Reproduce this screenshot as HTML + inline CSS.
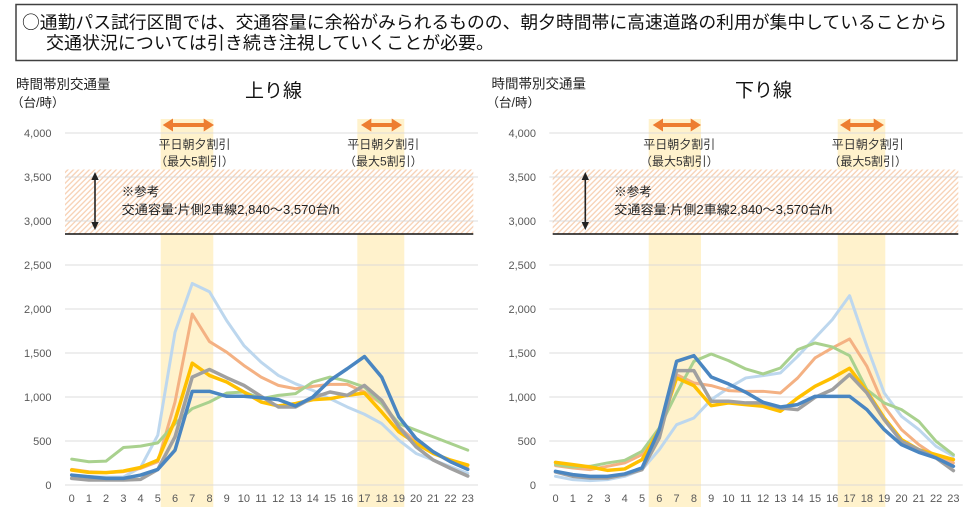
<!DOCTYPE html>
<html>
<head>
<meta charset="utf-8">
<style>
html,body{margin:0;padding:0;background:#fff;}
svg{display:block;}
text{font-family:"Liberation Sans","Noto Sans CJK JP",sans-serif;}
text.cjk{font-family:"Noto Sans CJK JP","Liberation Sans",sans-serif;}
</style>
</head>
<body>
<svg width="972" height="507" viewBox="0 0 972 507" xmlns="http://www.w3.org/2000/svg">
<defs>
<pattern id="hatch" patternUnits="userSpaceOnUse" width="3.8" height="3.8" patternTransform="rotate(45)">
<rect width="3.8" height="3.8" fill="#fff"/>
<line x1="0.8" y1="0" x2="0.8" y2="3.8" stroke="#f7d0b3" stroke-width="1.3"/>
</pattern>
</defs>

<!-- header box -->
<rect x="16" y="4.5" width="941" height="56" fill="#fff" stroke="#404040" stroke-width="1.5"/>
<text class="cjk" x="22" y="28.5" font-size="17.8" fill="#111" textLength="925" lengthAdjust="spacingAndGlyphs">○通勤パス試行区間では、交通容量に余裕がみられるものの、朝夕時間帯に高速道路の利用が集中していることから</text>
<text class="cjk" x="46" y="49" font-size="17.8" fill="#111" textLength="448" lengthAdjust="spacingAndGlyphs">交通状況については引き続き注視していくことが必要。</text>

<!-- ============ LEFT CHART ============ -->
<text x="16" y="89" font-size="13.5" fill="#222">時間帯別交通量</text>
<text x="11" y="107" font-size="12.5" fill="#222">（台/時）</text>
<text x="245" y="97" font-size="19" fill="#111">上り線</text>

<rect x="160.7" y="119" width="52.6" height="388" fill="#fff2cc"/>
<rect x="357.3" y="119" width="47" height="388" fill="#fff2cc"/>

<rect x="65" y="169.5" width="408.3" height="64.5" fill="url(#hatch)"/>

<g stroke="#d9d9d9" stroke-width="1" opacity="0.9">
<line x1="65" y1="133" x2="478" y2="133"/>
<line x1="65" y1="177" x2="478" y2="177"/>
<line x1="65" y1="221" x2="478" y2="221"/>
<line x1="65" y1="265" x2="478" y2="265"/>
<line x1="65" y1="309" x2="478" y2="309"/>
<line x1="65" y1="353" x2="478" y2="353"/>
<line x1="65" y1="397" x2="478" y2="397"/>
<line x1="65" y1="441" x2="478" y2="441"/>
<line x1="65" y1="485" x2="478" y2="485"/>
</g>
<line x1="65" y1="234" x2="473.3" y2="234" stroke="#111" stroke-width="1.5"/>

<g font-size="11" fill="#595959" text-anchor="end">
<text x="51.5" y="137">4,000</text>
<text x="51.5" y="181">3,500</text>
<text x="51.5" y="225">3,000</text>
<text x="51.5" y="269">2,500</text>
<text x="51.5" y="313">2,000</text>
<text x="51.5" y="357">1,500</text>
<text x="51.5" y="401">1,000</text>
<text x="51.5" y="445">500</text>
<text x="51.5" y="489">0</text>
</g>
<g font-size="11" fill="#595959" text-anchor="middle">
<text x="71.7" y="502">0</text><text x="88.9" y="502">1</text><text x="106.1" y="502">2</text><text x="123.4" y="502">3</text><text x="140.6" y="502">4</text><text x="157.8" y="502">5</text><text x="175.0" y="502">6</text><text x="192.2" y="502">7</text><text x="209.5" y="502">8</text><text x="226.7" y="502">9</text><text x="243.9" y="502">10</text><text x="261.1" y="502">11</text><text x="278.3" y="502">12</text><text x="295.6" y="502">13</text><text x="312.8" y="502">14</text><text x="330.0" y="502">15</text><text x="347.2" y="502">16</text><text x="364.4" y="502">17</text><text x="381.7" y="502">18</text><text x="398.9" y="502">19</text><text x="416.1" y="502">20</text><text x="433.3" y="502">21</text><text x="450.5" y="502">22</text><text x="467.8" y="502">23</text>
</g>

<g fill="#ed7d31" stroke="none">
<rect x="170" y="123" width="36" height="4"/>
<polygon points="162.7,125 173,118.5 173,131.5"/>
<polygon points="214,125 203.7,118.5 203.7,131.5"/>
<rect x="368" y="123" width="27" height="4"/>
<polygon points="361,125 371.3,118.5 371.3,131.5"/>
<polygon points="402,125 391.7,118.5 391.7,131.5"/>
</g>
<g font-size="12" fill="#333" text-anchor="middle">
<text x="194.5" y="148.5">平日朝夕割引</text>
<text x="194.5" y="165.5">（最大5割引）</text>
<text x="383.3" y="148.5">平日朝夕割引</text>
<text x="383.3" y="165.5">（最大5割引）</text>
</g>

<line x1="95" y1="178" x2="95" y2="224" stroke="#222" stroke-width="1.6"/>
<polygon points="95,172 91.3,180 98.7,180" fill="#222"/>
<polygon points="95,230 91.3,222 98.7,222" fill="#222"/>
<text x="121.7" y="196" font-size="12.5" fill="#222">※参考</text>
<text x="121.7" y="214" font-size="12.5" fill="#222" textLength="218" lengthAdjust="spacingAndGlyphs">交通容量:片側2車線2,840～3,570台/h</text>

<g transform="translate(71.7,485) scale(17.22,-0.088)" fill="none" stroke-linejoin="round" stroke-linecap="round">
<polyline vector-effect="non-scaling-stroke" stroke="#bdd7ee" stroke-width="3" points="0,110 1,95 2,90 3,90 4,200 5,566 6,1736 7,2290 8,2196 9,1868 10,1585 11,1396 12,1245 13,1150 14,1075 15,981 16,887 17,804 18,698 19,509 20,358 21,283 22,208 23,132"/>
<polyline vector-effect="non-scaling-stroke" stroke="#f4b183" stroke-width="3" points="0,177 1,151 2,140 3,151 4,189 5,264 6,943 7,1943 8,1630 9,1509 10,1358 11,1226 12,1132 13,1094 14,1121 15,1143 16,1143 17,1057 18,925 19,660 20,491 21,358 22,283 23,189"/>
<polyline vector-effect="non-scaling-stroke" stroke="#a9d18e" stroke-width="3" points="0,294 1,264 2,272 3,426 4,442 5,479 6,698 7,868 8,943 9,1045 10,1057 11,981 12,1019 13,1038 14,1170 15,1226 16,1181 17,1113 18,925 19,698 20,623 21,547 22,472 23,396"/>
<polyline vector-effect="non-scaling-stroke" stroke="#ffc000" stroke-width="3.5" points="0,170 1,143 2,140 3,158 4,200 5,283 6,736 7,1385 8,1245 9,1170 10,1057 11,943 12,898 13,925 14,970 15,981 16,1019 17,1045 18,830 19,604 20,472 21,358 22,283 23,226"/>
<polyline vector-effect="non-scaling-stroke" stroke="#a0a0a0" stroke-width="3.5" points="0,75 1,57 2,57 3,57 4,64 5,177 6,547 7,1226 8,1313 9,1219 10,1132 11,1008 12,887 13,887 14,992 15,1057 16,1019 17,1132 18,962 19,660 20,434 21,283 22,189 23,102"/>
<polyline vector-effect="non-scaling-stroke" stroke="#4a86c1" stroke-width="3.5" points="0,113 1,94 2,75 3,75 4,113 5,177 6,396 7,1064 8,1064 9,1008 10,1008 11,992 12,970 13,898 14,1000 15,1189 16,1321 17,1460 18,1226 19,774 20,528 21,377 22,264 23,177"/>
</g>

<!-- ============ RIGHT CHART ============ -->
<text x="491.5" y="88.5" font-size="13.5" fill="#222">時間帯別交通量</text>
<text x="486.5" y="107" font-size="12.5" fill="#222">（台/時）</text>
<text x="735" y="96.5" font-size="19" fill="#111">下り線</text>

<rect x="648.7" y="119" width="52.3" height="388" fill="#fff2cc"/>
<rect x="837.7" y="119" width="47.6" height="388" fill="#fff2cc"/>

<rect x="552.7" y="169.5" width="405.6" height="64.5" fill="url(#hatch)"/>

<g stroke="#d9d9d9" stroke-width="1" opacity="0.9">
<line x1="549.3" y1="133" x2="962.7" y2="133"/>
<line x1="549.3" y1="177" x2="962.7" y2="177"/>
<line x1="549.3" y1="221" x2="962.7" y2="221"/>
<line x1="549.3" y1="265" x2="962.7" y2="265"/>
<line x1="549.3" y1="309" x2="962.7" y2="309"/>
<line x1="549.3" y1="353" x2="962.7" y2="353"/>
<line x1="549.3" y1="397" x2="962.7" y2="397"/>
<line x1="549.3" y1="441" x2="962.7" y2="441"/>
<line x1="549.3" y1="485" x2="962.7" y2="485"/>
</g>
<line x1="552.7" y1="234" x2="958.3" y2="234" stroke="#111" stroke-width="1.5"/>

<g font-size="11" fill="#595959" text-anchor="end">
<text x="536" y="137">4,000</text>
<text x="536" y="181">3,500</text>
<text x="536" y="225">3,000</text>
<text x="536" y="269">2,500</text>
<text x="536" y="313">2,000</text>
<text x="536" y="357">1,500</text>
<text x="536" y="401">1,000</text>
<text x="536" y="445">500</text>
<text x="536" y="489">0</text>
</g>
<g font-size="11" fill="#595959" text-anchor="middle">
<text x="555.5" y="502">0</text><text x="572.8" y="502">1</text><text x="590.1" y="502">2</text><text x="607.4" y="502">3</text><text x="624.7" y="502">4</text><text x="642.0" y="502">5</text><text x="659.3" y="502">6</text><text x="676.6" y="502">7</text><text x="693.9" y="502">8</text><text x="711.2" y="502">9</text><text x="728.5" y="502">10</text><text x="745.8" y="502">11</text><text x="763.1" y="502">12</text><text x="780.4" y="502">13</text><text x="797.7" y="502">14</text><text x="815.0" y="502">15</text><text x="832.3" y="502">16</text><text x="849.6" y="502">17</text><text x="866.9" y="502">18</text><text x="884.2" y="502">19</text><text x="901.5" y="502">20</text><text x="918.8" y="502">21</text><text x="936.1" y="502">22</text><text x="953.4" y="502">23</text>
</g>

<g fill="#ed7d31" stroke="none">
<rect x="660" y="123" width="34" height="4"/>
<polygon points="652.7,125 663,118.5 663,131.5"/>
<polygon points="701,125 690.7,118.5 690.7,131.5"/>
<rect x="847" y="123" width="30" height="4"/>
<polygon points="840,125 850.3,118.5 850.3,131.5"/>
<polygon points="884,125 873.7,118.5 873.7,131.5"/>
</g>
<g font-size="12" fill="#333" text-anchor="middle">
<text x="679.3" y="148.5">平日朝夕割引</text>
<text x="679.3" y="165.5">（最大5割引）</text>
<text x="867.7" y="148.5">平日朝夕割引</text>
<text x="867.7" y="165.5">（最大5割引）</text>
</g>

<line x1="585.3" y1="178" x2="585.3" y2="224" stroke="#222" stroke-width="1.6"/>
<polygon points="585.3,172 581.6,180 589,180" fill="#222"/>
<polygon points="585.3,230 581.6,222 589,222" fill="#222"/>
<text x="614.3" y="196" font-size="12.5" fill="#222">※参考</text>
<text x="614.3" y="214" font-size="12.5" fill="#222" textLength="218" lengthAdjust="spacingAndGlyphs">交通容量:片側2車線2,840～3,570台/h</text>

<g transform="translate(555.5,485.3) scale(17.3,-0.088)" fill="none" stroke-linejoin="round" stroke-linecap="round">
<polyline vector-effect="non-scaling-stroke" stroke="#bdd7ee" stroke-width="3" points="0,102 1,64 2,53 3,64 4,102 5,178 6,405 7,689 8,765 9,973 10,1106 11,1220 12,1246 13,1277 14,1466 15,1674 16,1883 17,2155 18,1580 19,1049 20,784 21,633 22,443 23,330"/>
<polyline vector-effect="non-scaling-stroke" stroke="#f4b183" stroke-width="3" points="0,223 1,197 2,178 3,216 4,254 5,348 6,595 7,1258 8,1163 9,1133 10,1076 11,1068 12,1068 13,1049 14,1220 15,1447 16,1561 17,1663 18,1352 19,898 20,633 21,462 22,330 23,254"/>
<polyline vector-effect="non-scaling-stroke" stroke="#a9d18e" stroke-width="3" points="0,235 1,208 2,216 3,254 4,284 5,386 6,652 7,1049 8,1409 9,1492 10,1417 11,1322 12,1265 13,1333 14,1542 15,1617 16,1572 17,1473 18,1087 19,936 20,860 21,727 22,500 23,348"/>
<polyline vector-effect="non-scaling-stroke" stroke="#ffc000" stroke-width="3.5" points="0,261 1,235 2,208 3,170 4,186 5,292 6,633 7,1220 8,1133 9,905 10,936 11,917 12,898 13,841 14,992 15,1125 16,1220 17,1330 18,1068 19,765 20,519 21,405 22,348 23,292"/>
<polyline vector-effect="non-scaling-stroke" stroke="#a0a0a0" stroke-width="3.5" points="0,152 1,102 2,83 3,83 4,121 5,178 6,538 7,1303 8,1303 9,955 10,955 11,936 12,936 13,879 14,860 15,1000 16,1087 17,1258 18,1049 19,746 20,500 21,405 22,311 23,167"/>
<polyline vector-effect="non-scaling-stroke" stroke="#4a86c1" stroke-width="3.5" points="0,159 1,121 2,102 3,102 4,129 5,197 6,633 7,1409 8,1473 9,1231 10,1152 11,1057 12,943 13,890 14,917 15,1011 16,1011 17,1011 18,860 19,633 20,462 21,375 22,311 23,216"/>
</g>
</svg>
</body>
</html>
